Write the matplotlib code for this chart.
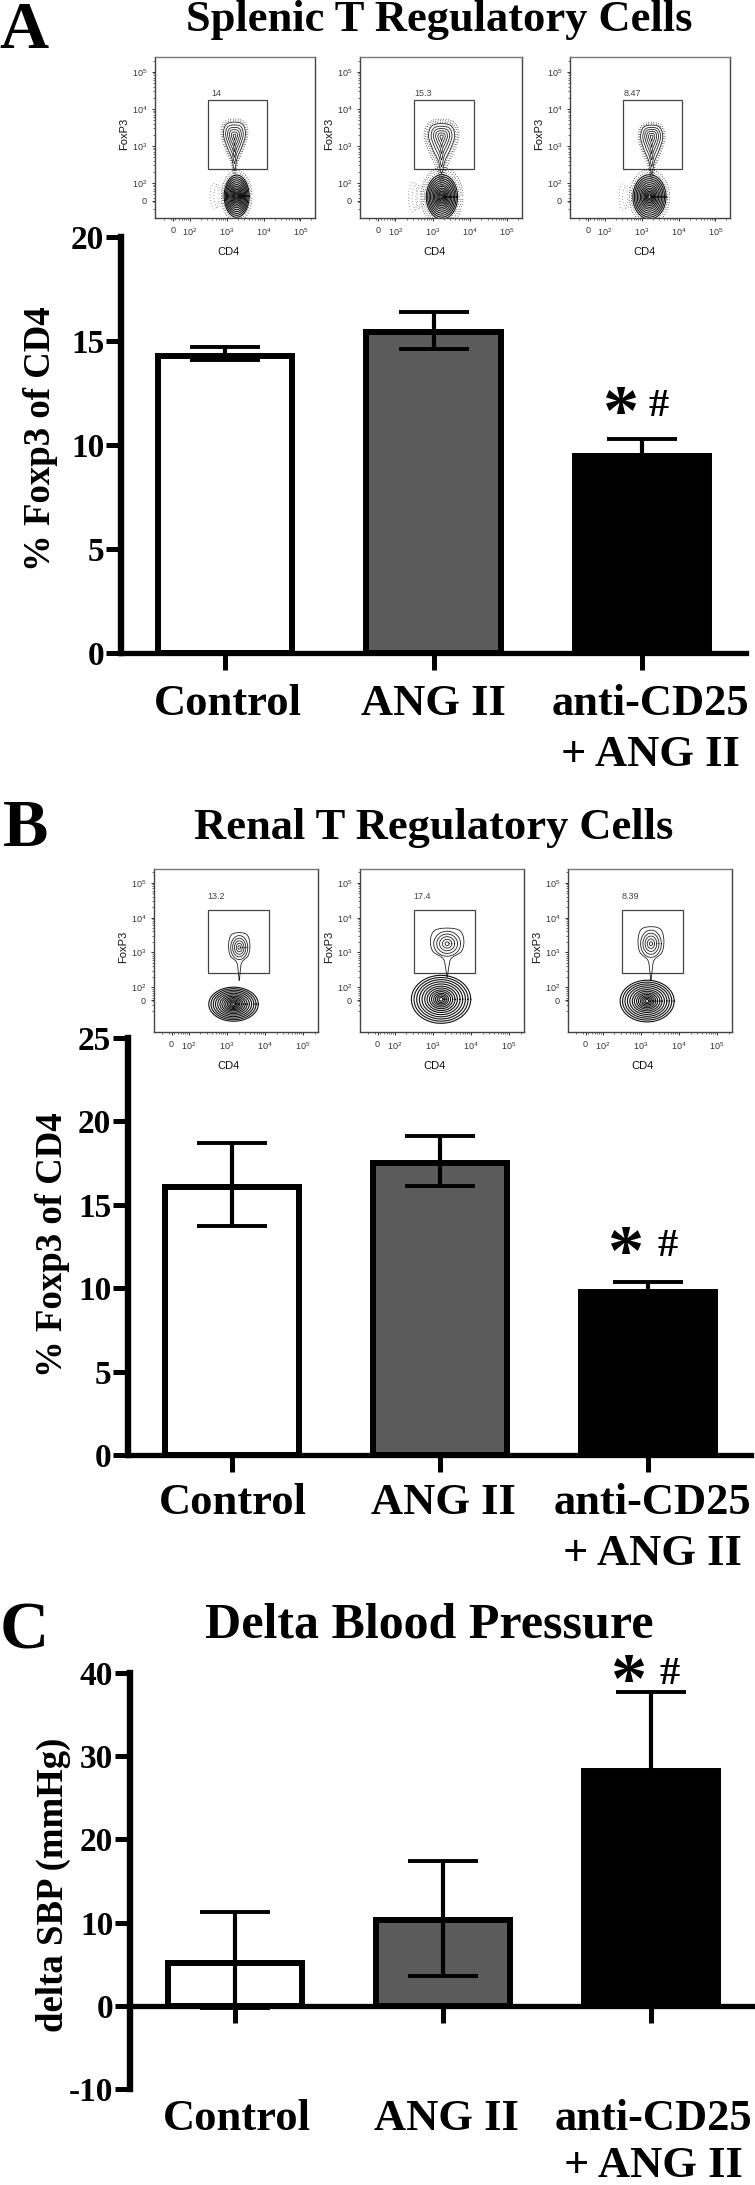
import matplotlib
matplotlib.use("Agg")
import matplotlib.pyplot as plt
import numpy as np
from matplotlib.patches import Rectangle
from matplotlib.transforms import Affine2D, ScaledTranslation

# Bar chart data
groups = ["Control", "ANG II", "anti-CD25\n+ ANG II"]
bar_colors = ["white", "#5b5b5b", "black"]

spleen_means = [14.3, 15.45, 9.45]
spleen_upper = [14.7, 16.4, 10.3]
spleen_lower = [14.1, 14.6, 9.45]

renal_means = [16.05, 17.5, 9.75]
renal_upper = [18.7, 19.1, 10.4]
renal_lower = [13.7, 16.1, 9.75]

sbp_means = [5.2, 10.3, 28.2]
sbp_upper = [11.3, 17.4, 37.7]
sbp_lower = [-0.3, 3.6, 28.2]

# Flow plots, everything in decades of the biexponential axes
spleen_pct = ["14", "15.3", "8.47"]
renal_pct = ["13.2", "17.4", "8.39"]
spleen_gate_x = [2.48, 4.1]
spleen_gate_y = [2.37, 4.24]
renal_gate_x = [2.5, 4.1]
renal_gate_y = [2.4, 4.22]
# upper lobe: centre x, peak y, half width, top y, neck y
spleen_upper_lobe = [(3.21, 3.27, 0.30, 3.64, 2.35), (3.24, 3.25, 0.35, 3.60, 2.25), (3.27, 3.25, 0.30, 3.56, 2.25)]
renal_upper_lobe = [(3.32, 3.14, 0.28, 3.57, 2.2), (3.37, 3.25, 0.44, 3.70, 2.3), (3.26, 3.25, 0.34, 3.74, 2.2)]
# lower lobe: centre x, centre y, half width, half height
spleen_lower_lobe = [(3.27, 1.64, 0.34, 0.57), (3.25, 1.62, 0.42, 0.60), (3.21, 1.62, 0.45, 0.60)]
renal_lower_lobe = [(3.17, 1.51, 0.65, 0.49), (3.21, 1.65, 0.78, 0.69), (3.16, 1.60, 0.71, 0.60)]
spleen_halo = [2, 3, 2]

tear_x = [0, 0.25, 0.7, 1, 0.75, 0, -0.75, -1, -0.7, -0.25]
tear_y = [0, 0.25, 0.5, 0.75, 0.95, 1, 0.95, 0.75, 0.5, 0.25]
neck_x = [0, 0.1, 0.25, 0.85, 1, 0.75, 0, -0.75, -1, -0.85, -0.25, -0.1]
neck_y = [0, 0.2, 0.38, 0.52, 0.75, 0.95, 1, 0.95, 0.75, 0.52, 0.38, 0.2]
upper_rings = [1, 0.8, 0.62, 0.45, 0.28, 0.12]
lower_rings = [1, 0.91, 0.82, 0.73, 0.64, 0.55, 0.47, 0.39, 0.32, 0.25, 0.19, 0.13, 0.07]

W, H = 755, 2185
plt.rcParams["mathtext.default"] = "regular"
SERIF = "Liberation Serif"
SANS = "Liberation Sans"

fig = plt.figure(figsize=(W / 100, H / 100), dpi=100, facecolor="white")
# pixel coordinates, origin top left
px = Affine2D().scale(1 / W, -1 / H).translate(0, 1) + fig.transFigure


def smooth(xs, ys, n=12):
    # closed Catmull-Rom curve through the given points
    p = np.column_stack([xs, ys])
    out = []
    for i in range(len(p)):
        p0, p1, p2, p3 = p[i - 1], p[i], p[(i + 1) % len(p)], p[(i + 2) % len(p)]
        for t in np.linspace(0, 1, n, endpoint=False):
            out.append(0.5 * (2 * p1 + (p2 - p0) * t + (2 * p0 - 5 * p1 + 4 * p2 - p3) * t ** 2
                              + (3 * p1 - p0 - 3 * p2 + p3) * t ** 3))
    out.append(out[0])
    return np.array(out)


def add_axes_px(left, right, top, bottom):
    return fig.add_axes([left / W, 1 - bottom / H, (right - left) / W, (bottom - top) / H])


def flow_plot(box, xlim, ylim, gate_x, gate_y, pct, pct_x, pct_y, upper, lower, necked, halo, zero_y):
    left, right, top, bottom = box
    ax = add_axes_px(left, right, top, bottom)
    ax.set_xlim(xlim)
    ax.set_ylim(ylim)
    for s in ax.spines.values():
        s.set_linewidth(1.0)
        s.set_color("#444444")
    ax.spines["top"].set_color("#777777")

    ax.add_patch(Rectangle((gate_x[0], gate_y[0]), gate_x[1] - gate_x[0], gate_y[1] - gate_y[0],
                           fill=False, ec="#444444", lw=0.9))

    cx, peak, hw, lobe_top, neck = upper
    hh = lobe_top - peak
    xs = tear_x if not necked else neck_x
    ys = tear_y if not necked else neck_y
    shape = smooth(np.array(xs) * hw + cx, np.array(ys) * (lobe_top - neck) + neck)
    for r in upper_rings:
        if necked and r < 1:
            t = np.linspace(0, 2 * np.pi, 60)
            ax.plot(cx + r * hw * np.cos(t), peak + r * hh * np.sin(t), color="#222222", lw=0.6)
        else:
            ax.plot(cx + r * (shape[:, 0] - cx), peak + r * (shape[:, 1] - peak), color="#222222", lw=0.6)

    lx, ly, lw, lh = lower
    t = np.linspace(0, 2 * np.pi, 80)
    for r in lower_rings:
        ax.plot(lx + r * lw * np.cos(t), ly + r * lh * np.sin(t), color="#111111", lw=0.8)

    # speckle round the contours, as dotted outlines
    for k in range(halo):
        g = 1.1 + 0.12 * k
        ax.plot(cx + g * (shape[:, 0] - cx), peak + g * (shape[:, 1] - peak), color="black", lw=0.7,
                ls=(k * 0.7, (0.6, 2.0)))
        ax.plot(lx + g * lw * np.cos(t), ly + g * lh * np.sin(t), color="black", lw=0.7,
                ls=(k * 0.7, (0.6, 2.0)))
        # cloud to the left of the lower lobe
        ax.plot(lx - lw - 0.16 - 0.1 * k + 0.12 * np.cos(t), ly + (0.3 + 0.05 * k) * np.sin(t), color="black",
                lw=0.6, ls=(k * 0.7, (0.5, 3.2)))

    dec = [2, 3, 4, 5]
    minor = [d + np.log10(m) for d in [1, 2, 3, 4, 5] for m in range(2, 10)]
    ax.set_xticks([1.54] + dec)
    ax.set_xticklabels(["0"] + ["$10^{%d}$" % d for d in dec], fontsize=6.5, family=SANS, color="#333333")
    ax.set_yticks([zero_y] + dec)
    ax.set_yticklabels(["0"] + ["$10^{%d}$" % d for d in dec], fontsize=6.5, family=SANS, color="#333333")
    ax.set_xticks([m for m in minor if xlim[0] < m < xlim[1]], minor=True)
    ax.set_yticks([m for m in minor if ylim[0] < m < ylim[1]], minor=True)
    ax.tick_params(which="major", length=2.2, width=0.7, pad=3.5, color="#333333")
    ax.tick_params(which="minor", length=1.2, width=0.5, color="#333333")

    fig.text(left + 74, bottom + 34, "CD4", transform=px, ha="center", va="center",
             family=SANS, fontsize=8, color="#111111")
    fig.text(left - 31, (top + bottom) / 2 - 4, "FoxP3", transform=px, ha="center", va="center",
             rotation=90, family=SANS, fontsize=8, color="#111111")
    ax.text(pct_x, pct_y, pct, ha="center", va="center", family=SANS, fontsize=6.5, color="#444444")


def bar_panel(spine_x, right, ticks_x, y_top, y_bottom, ymin, ymax, yticks,
              means, upper, lower, ylabel, ylabel_x, ylabel_y, label_pad, label_shift, spacing):
    ax = add_axes_px(spine_x, right, y_top, y_bottom)
    step = (ticks_x[2] - ticks_x[0]) / 2
    ax.set_xlim((spine_x - ticks_x[0]) / step, (right - ticks_x[0]) / step)
    ax.set_ylim(ymin, ymax)
    ax.patch.set_alpha(0)
    x = np.arange(len(groups))
    ax.bar(x, means, width=0.645, color=bar_colors, edgecolor="black", linewidth=4.3,
           zorder=2, clip_on=False)
    yerr = [np.array(means) - np.array(lower), np.array(upper) - np.array(means)]
    ax.errorbar(x, means, yerr=yerr, fmt="none", ecolor="black", elinewidth=3.0, capsize=25,
                capthick=2.8, zorder=3, clip_on=False)
    ax.spines["top"].set_visible(False)
    ax.spines["right"].set_visible(False)
    ax.spines["left"].set_linewidth(4.6)
    ax.spines["bottom"].set_linewidth(3.8)
    ax.spines["bottom"].set_position(("data", 0))
    ax.spines["bottom"].set_zorder(4)
    ax.set_yticks(yticks)
    ax.set_yticklabels([str(v) for v in yticks], family=SERIF, weight="bold", fontsize=24)
    ax.set_xticks(x)
    labels = ax.set_xticklabels(groups, family=SERIF, weight="bold", fontsize=32, linespacing=spacing)
    ax.tick_params(axis="y", length=11, width=3.6, pad=1)
    ax.tick_params(axis="x", length=12, width=3.6, pad=label_pad)
    for lab, dx in zip(labels, label_shift):
        lab.set_transform(lab.get_transform() + ScaledTranslation(dx / 100, 0, fig.dpi_scale_trans))
    fig.text(ylabel_x, ylabel_y, ylabel, transform=px, rotation=90, ha="center", va="center",
             family=SERIF, weight="bold", fontsize=26.5)
    return ax


def heading(letter, letter_x, letter_y, title, title_x, title_y, size):
    fig.text(letter_x, letter_y, letter, transform=px, ha="center", va="center",
             family=SERIF, weight="bold", fontsize=49)
    fig.text(title_x, title_y, title, transform=px, ha="center", va="center",
             family=SERIF, weight="bold", fontsize=size)


def marks(star_x, star_y, hash_x, hash_y):
    fig.text(star_x, star_y + 12, "*", transform=px, ha="center", va="center",
             family=SERIF, weight="bold", fontsize=52)
    fig.text(hash_x, hash_y, "#", transform=px, ha="center", va="center",
             family=SERIF, weight="bold", fontsize=29)


# A
heading("A", 24, 31, "Splenic T Regulatory Cells", 439, 20, 32)
for i, box in enumerate([(155, 315, 57, 218), (360, 522, 57, 218), (570, 730, 57, 218)]):
    flow_plot(box, (1.05, 5.4), (1.05, 5.4), (spleen_gate_x[0] + (0.02 if i else 0), spleen_gate_x[1]), spleen_gate_y,
              spleen_pct[i], 2.75 if i else 2.72, 4.42, spleen_upper_lobe[i], spleen_lower_lobe[i], False,
              spleen_halo[i], 1.51)
bar_panel(121, 746, (225, 433, 642), 237, 653, 0, 20, [0, 5, 10, 15, 20],
          spleen_means, spleen_upper, spleen_lower, "% Foxp3 of CD4", 41, 439, 10, (3, 0, 8), 1.36)
marks(621, 404, 659, 406)

# B
heading("B", 26, 829, "Renal T Regulatory Cells", 434, 828, 32)
for i, box in enumerate([(154, 318, 869, 1032), (360, 524, 869, 1032), (568, 732, 869, 1032)]):
    flow_plot(box, (1.08, 5.39), (0.71, 5.4), renal_gate_x, renal_gate_y, renal_pct[i], 2.72, 4.62,
              renal_upper_lobe[i], renal_lower_lobe[i], True, 0, 1.63)
bar_panel(128, 751, (232, 440, 648), 1038, 1455, 0, 25, [0, 5, 10, 15, 20, 25],
          renal_means, renal_upper, renal_lower, "% Foxp3 of CD4", 53, 1245, 8, (1, 3, 4), 1.36)
marks(626, 1245, 668, 1247)

# C
heading("C", 24, 1632, "Delta Blood Pressure", 429, 1626, 36)
bar_panel(130, 754, (235, 443, 651), 1673, 2089, -10, 40, [-10, 0, 10, 20, 30, 40],
          sbp_means, sbp_upper, sbp_lower, "delta SBP (mmHg)", 53, 1885, 55, (2, 3, 2), 1.22)
marks(629, 1673, 670, 1674)

fig.savefig("out.png", dpi=100)
